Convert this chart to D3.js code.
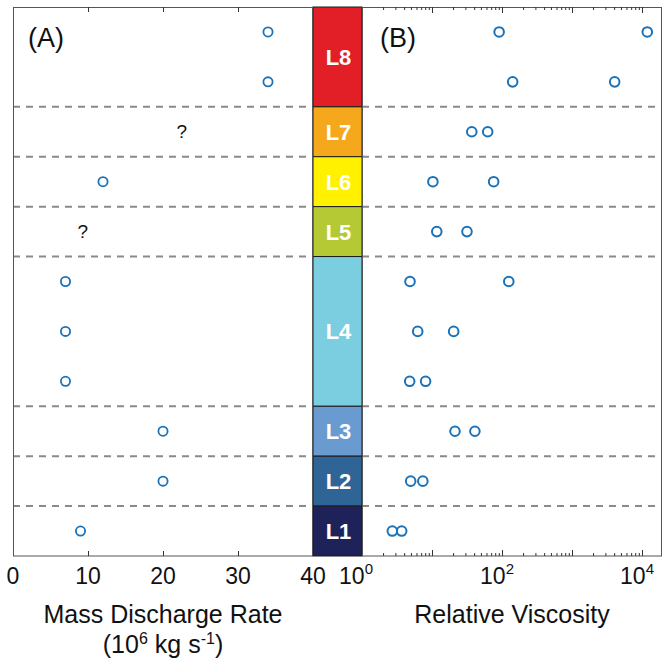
<!DOCTYPE html>
<html>
<head>
<meta charset="utf-8">
<script src="https://cdn.jsdelivr.net/npm/d3@7/dist/d3.min.js"></script>
<style>
  html, body { margin: 0; padding: 0; background: #fff; }
  svg { display: block; font-family: "Liberation Sans", Arial, Helvetica, sans-serif; }
</style>
</head>
<body>
<svg id="chart" width="663" height="667"></svg>
<script>
// Eruption layers, top (youngest) to bottom (oldest)
const layers = ["L8", "L7", "L6", "L5", "L4", "L3", "L2", "L1"];
// Number of sample rows per layer
const layerRowCounts = [2, 1, 1, 1, 3, 1, 1, 1];
// One entry per sample row, top to bottom
const rowIds = ["L8a", "L8b", "L7", "L6", "L5", "L4a", "L4b", "L4c", "L3", "L2", "L1"];
// Mass discharge rate (10^6 kg/s); null where unknown
const massDischarge = [34, 34, null, 12, null, 7, 7, 7, 20, 20, 9];
// Rows with an unknown rate, marked "?" at an approximate value
const unknownRows = ["L7", "L5"];
const unknownValues = [22.5, 9.3];
// Relative viscosity, lower and upper estimates per row
const viscosityLow = [91, 142, 37, 10.3, 11.7, 4.85, 6.25, 4.8, 21.3, 4.96, 2.71];
const viscosityHigh = [11900, 4070, 62.5, 76, 31.6, 125, 20.4, 8.1, 41, 7.4, 3.69];
// Tick labels
const massTicks = [0, 10, 20, 30, 40];
const viscTickExponents = [0, 2, 4];

const layerColors = ["#e21f26", "#f6a81c", "#fff100", "#b5c934", "#7bcde0", "#6a9bd0", "#2f6497", "#1f2258"];

const svg = d3.select("#chart");
const yTop = 7, yBottom = 556;
const leftX0 = 13, leftX1 = 313, rightX0 = 362, rightX1 = 662;

const xMass = d3.scaleLinear().domain([0, 40]).range([leftX0, leftX1]);
const xVisc = d3.scaleLog().domain([1, Math.pow(10, 300 / 70)]).range([rightX0, rightX1]);
const y = d3.scaleBand().domain(rowIds).range([yTop, yBottom]);
const color = d3.scaleOrdinal().domain(layers).range(layerColors);

// Layer extents in row units
let start = 0;
const layerSpans = layers.map((name, i) => {
  const s = { name, first: rowIds[start], last: rowIds[start + layerRowCounts[i] - 1] };
  start += layerRowCounts[i];
  return s;
});

// Dashed separators between layers
const sepYs = layerSpans.slice(1).map(s => y(s.first));
[[leftX0, leftX1], [rightX0, rightX1]].forEach(([a, b]) => {
  svg.append("g").selectAll("line").data(sepYs).join("line")
    .attr("x1", a).attr("x2", b)
    .attr("y1", d => d).attr("y2", d => d)
    .attr("stroke", "#8a8a8a").attr("stroke-width", 2)
    .attr("stroke-dasharray", "7,6");
});

// Central colour column with layer names
const col = svg.append("g");
col.selectAll("rect").data(layerSpans).join("rect")
  .attr("x", leftX1).attr("width", rightX0 - leftX1)
  .attr("y", d => y(d.first))
  .attr("height", d => y(d.last) + y.bandwidth() - y(d.first))
  .attr("fill", d => color(d.name))
  .attr("stroke", "#1a1a1a").attr("stroke-width", 1);
col.selectAll("text").data(layerSpans).join("text")
  .attr("x", (leftX1 + rightX0) / 2 + 1)
  .attr("y", d => (y(d.first) + y(d.last) + y.bandwidth()) / 2 + 8)
  .attr("text-anchor", "middle")
  .attr("fill", "#fff").attr("font-weight", "bold").attr("font-size", 22)
  .text(d => d.name);

// Panel frames
[[leftX0, leftX1], [rightX0, rightX1]].forEach(([a, b]) => {
  svg.append("rect").attr("x", a + 0.5).attr("y", yTop + 0.5)
    .attr("width", b - a - 1).attr("height", yBottom - yTop - 0.5)
    .attr("fill", "none").attr("stroke", "#555").attr("stroke-width", 1);
});

// Inward ticks on the mass discharge panel
const massAxisBottom = d3.axisBottom(xMass).tickValues([10, 20, 30]).tickSize(-5).tickFormat("");
const massAxisTop = d3.axisTop(xMass).tickValues([10, 20, 30]).tickSize(-5).tickFormat("");
svg.append("g").attr("transform", `translate(0,${yBottom})`).call(massAxisBottom);
svg.append("g").attr("transform", `translate(0,${yTop})`).call(massAxisTop);

// Inward log ticks (major and minor) on the viscosity panel
const logTicks = xVisc.ticks().filter(v => v > 1);
const isMajor = v => Math.abs(Math.log10(v) - Math.round(Math.log10(v))) < 1e-9;
const majors = logTicks.filter(isMajor), minors = logTicks.filter(v => !isMajor(v));
[[majors, 6], [minors, 3]].forEach(([vals, len]) => {
  svg.append("g").attr("transform", `translate(0,${yBottom})`)
    .call(d3.axisBottom(xVisc).tickValues(vals).tickSize(-len).tickFormat(""));
  svg.append("g").attr("transform", `translate(0,${yTop})`)
    .call(d3.axisTop(xVisc).tickValues(vals).tickSize(-len).tickFormat(""));
});
svg.selectAll(".domain").remove();
svg.selectAll(".tick line").attr("stroke", "#333");

// Tick labels
svg.append("g").selectAll("text").data(massTicks).join("text")
  .attr("x", d => xMass(d)).attr("y", 584)
  .attr("text-anchor", "middle").attr("font-size", 23).attr("fill", "#111")
  .text(d => d);
const vt = svg.append("g").selectAll("text").data(viscTickExponents).join("text")
  .attr("x", d => xVisc(Math.pow(10, d)) - (d === 0 ? 6 : 5)).attr("y", 584)
  .attr("text-anchor", "middle").attr("font-size", 23).attr("fill", "#111");
vt.append("tspan").text("10");
vt.append("tspan").attr("dy", -10).attr("font-size", 15).text(d => d);

// Axis titles
svg.append("text").attr("x", (leftX0 + leftX1) / 2).attr("y", 623)
  .attr("text-anchor", "middle").attr("font-size", 25).attr("fill", "#111")
  .text("Mass Discharge Rate");
const unit = svg.append("text").attr("x", (leftX0 + leftX1) / 2).attr("y", 653)
  .attr("text-anchor", "middle").attr("font-size", 25).attr("fill", "#111");
unit.append("tspan").text("(10");
unit.append("tspan").attr("dy", -9).attr("font-size", 16).text("6");
unit.append("tspan").attr("dy", 9).text(" kg s");
unit.append("tspan").attr("dy", -9).attr("font-size", 16).text("-1");
unit.append("tspan").attr("dy", 9).text(")");
svg.append("text").attr("x", (rightX0 + rightX1) / 2).attr("y", 623)
  .attr("text-anchor", "middle").attr("font-size", 25).attr("fill", "#111")
  .text("Relative Viscosity");

// Panel labels
svg.append("text").attr("x", 28).attr("y", 47).attr("font-size", 27).attr("fill", "#111").text("(A)");
svg.append("text").attr("x", 380).attr("y", 47).attr("font-size", 27).attr("fill", "#111").text("(B)");

const markerColor = "#1a72b9";

// Mass discharge points
const massPts = rowIds.map((r, i) => ({ r, v: massDischarge[i] })).filter(d => d.v !== null);
svg.append("g").selectAll("circle").data(massPts).join("circle")
  .attr("cx", d => xMass(d.v)).attr("cy", d => y(d.r) + y.bandwidth() / 2)
  .attr("r", 4.6).attr("fill", "none").attr("stroke", markerColor).attr("stroke-width", 1.8);

// Unknown rates
svg.append("g").selectAll("text").data(unknownRows.map((r, i) => ({ r, v: unknownValues[i] }))).join("text")
  .attr("x", d => xMass(d.v)).attr("y", d => y(d.r) + y.bandwidth() / 2 + 6)
  .attr("text-anchor", "middle").attr("font-size", 19).attr("fill", "#111")
  .text("?");

// Viscosity points (low and high estimates)
const viscPts = rowIds.flatMap((r, i) => [{ r, v: viscosityLow[i] }, { r, v: viscosityHigh[i] }]);
svg.append("g").selectAll("circle").data(viscPts).join("circle")
  .attr("cx", d => xVisc(d.v)).attr("cy", d => y(d.r) + y.bandwidth() / 2)
  .attr("r", 4.8).attr("fill", "none").attr("stroke", markerColor).attr("stroke-width", 2);
</script>
</body>
</html>
